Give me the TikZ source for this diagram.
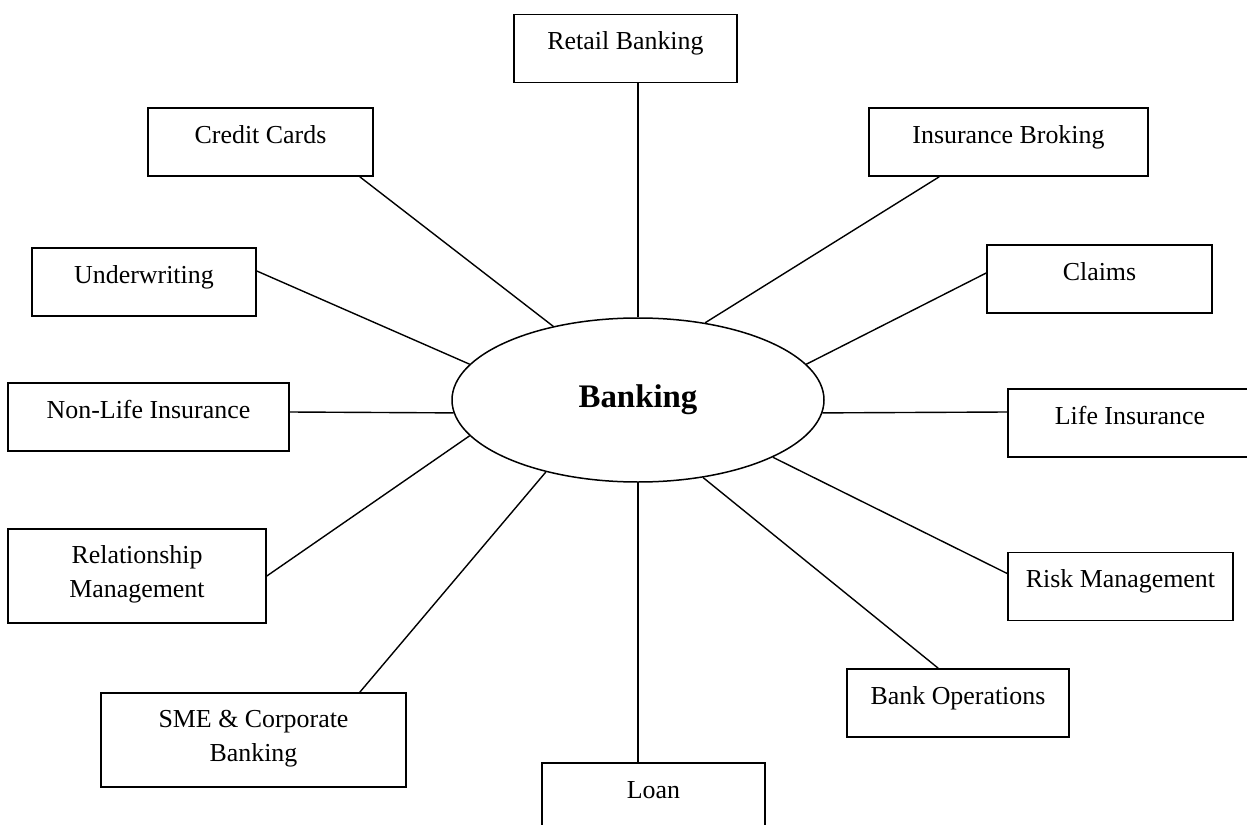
\documentclass[tikz,border=0pt]{standalone}
\usepackage{fontspec}
\setmainfont{Liberation Serif}
\usetikzlibrary{shapes.geometric}

\tikzset{
  area/.style={draw, rectangle, line width=1.6bp, inner sep=0pt,
    text height=35bp, text depth=33bp, align=center,
    font=\fontsize{26}{34}\selectfont},
  area2/.style={area, text height=68bp, text depth=26bp},
  link/.style={line width=1.4bp}
}

\begin{document}
\begin{tikzpicture}[x=1bp,y=-1bp]
\useasboundingbox (0,0) rectangle (1247,825);

\node[ellipse, draw, line width=1.5bp, minimum width=372bp, minimum height=164bp,
  font=\fontsize{33}{40}\selectfont\bfseries] (bank) at (638,400) {Banking};

\node[area, minimum width=223bp] (retail) at (625.5,48.5) {Retail Banking};
\node[area, minimum width=225bp] (cc) at (260.5,142) {Credit Cards};
\node[area, minimum width=279bp] (ib) at (1008.5,142) {Insurance Broking};
\node[area, minimum width=224bp] (uw) at (144,282) {Underwriting};
\node[area, minimum width=225bp] (claims) at (1099.5,279) {Claims};
\node[area, minimum width=281bp] (nonlife) at (148.5,417) {Non-Life Insurance};
\node[area, minimum width=244bp] (life) at (1130,423) {Life Insurance};
\node[area2, minimum width=258bp] (rel) at (137,576) {Relationship\\Management};
\node[area2, minimum width=305bp] (sme) at (253.5,740) {SME \& Corporate\\Banking};
\node[area, minimum width=223bp] (loan) at (653.5,797) {Loan};
\node[area, minimum width=222bp] (bops) at (958,703) {Bank Operations};
\node[area, minimum width=225bp] (risk) at (1120.5,586.5) {Risk Management};

\draw[link] (bank.north) -- (bank.north |- retail.south);
\draw[link] ([xshift=-14bp]cc.south east) -- (bank.139);
\draw[link] ([xshift=71bp]ib.south west) -- (bank.49);
\draw[link] ([yshift=11bp]uw.east) -- (bank.168);
\draw[link] ([yshift=6bp]claims.west) -- (bank.12);
\draw[link] ([yshift=5bp]nonlife.east) -- (bank.184);
\draw[link] ([yshift=11bp]life.west) -- (bank.356);
\draw[link] (rel.east) -- (bank.192);
\draw[link] ([xshift=-47bp]sme.north east) -- (bank.218);
\draw[link] (bank.south) -- (bank.south |- loan.north);
\draw[link] ([xshift=92bp]bops.north west) -- (bank.310);
\draw[link] ([yshift=13bp]risk.west) -- (bank.337);
\end{tikzpicture}
\end{document}
